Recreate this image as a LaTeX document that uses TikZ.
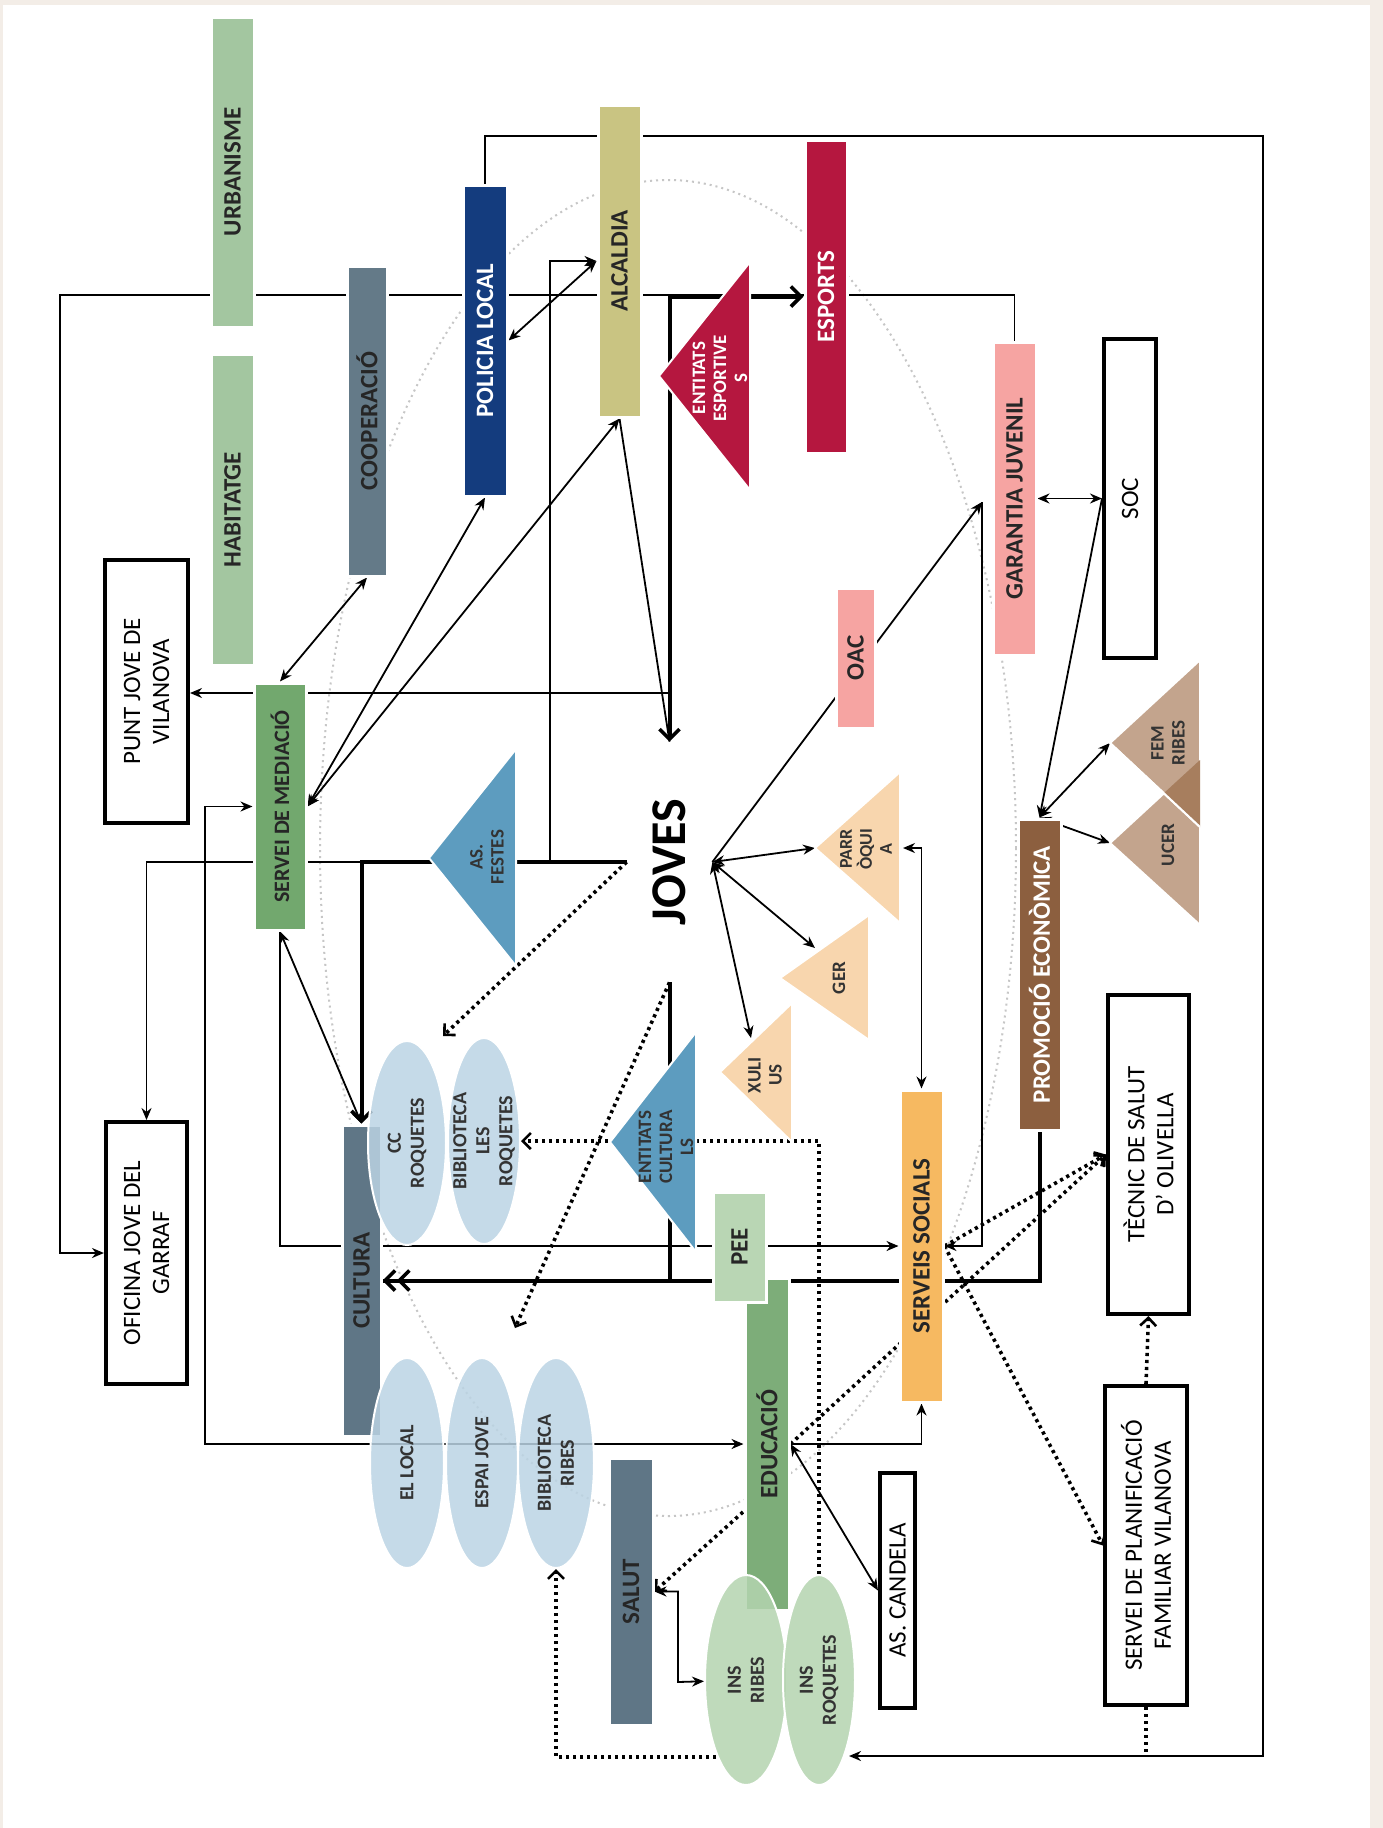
\documentclass[tikz,border=0pt]{standalone}
\usepackage{fontspec}
\setmainfont{Carlito}
\usetikzlibrary{shapes.geometric,arrows.meta}

\definecolor{cUrb}{HTML}{A3C6A0}
\definecolor{cCoop}{HTML}{647A88}
\definecolor{cPol}{HTML}{143C7E}
\definecolor{cAlc}{HTML}{C9C482}
\definecolor{cEsp}{HTML}{B5173F}
\definecolor{cGar}{HTML}{F6A4A2}
\definecolor{cMed}{HTML}{72A86E}
\definecolor{cFes}{HTML}{5D9CBF}
\definecolor{cCul}{HTML}{5F7686}
\definecolor{cOval}{HTML}{BBD4E4}
\definecolor{cPeach}{HTML}{F8D6AE}
\definecolor{cSS}{HTML}{F6B961}
\definecolor{cPee}{HTML}{B9D6B4}
\definecolor{cEdu}{HTML}{7DAD79}
\definecolor{cIns}{HTML}{B4D4B0}
\definecolor{cProm}{HTML}{8C5F3F}
\definecolor{cTan}{HTML}{C3A48D}
\definecolor{cTanD}{HTML}{A77E5E}
\definecolor{cBeige}{HTML}{F3EDE7}

\pgfdeclarelayer{back}
\pgfdeclarelayer{wires}
\pgfsetlayers{back,wires,main}

\tikzset{
  chev/.tip={Straight Barb[length=5pt,width=10pt,line width=1.8pt]},
  chevd/.tip={Straight Barb[length=4pt,width=8pt,line width=1.3pt]},
  bar/.style={rectangle, rotate=90, draw=white, line width=1.5pt, inner sep=0pt,
    text=black!85, font=\bfseries\fontsize{12.5}{13}\selectfont},
  box/.style={rectangle, rotate=90, draw=black, line width=2pt, fill=white, inner sep=0pt,
    align=center, font=\fontsize{12.5}{14.5}\selectfont},
  oval/.style={ellipse, rotate=90, draw=white, line width=1pt, fill opacity=0.85, inner sep=0pt},
  ovaltext/.style={rotate=90, align=center, inner sep=0pt, text=black!80,
    font=\bfseries\fontsize{10}{11.5}\selectfont},
  tritext/.style={rotate=90, align=center, inner sep=0pt, text=black!80,
    font=\bfseries\fontsize{9.5}{10.5}\selectfont},
  wire/.style={line width=0.9pt},
  wirebold/.style={line width=1.4pt},
  wireheavy/.style={line width=2pt},
  dotwire/.style={line width=1.8pt, dash pattern=on 1.6pt off 1.9pt},
  greydots/.style={draw=gray!45, line width=1pt, dash pattern=on 1pt off 2pt}
}

\begin{document}
\begin{tikzpicture}[x=0.5pt, y=-0.5pt, >={Stealth[length=6pt,width=5pt]}]
\useasboundingbox (0,0) rectangle (1383,1828);

% servei bars
\node[bar, fill=cUrb, minimum width=155pt, minimum height=21.5pt] (urb) at (232.5,172) {URBANISME};
\node[bar, fill=cUrb, minimum width=155.5pt, minimum height=21.5pt] (hab) at (232.5,509.5) {HABITATGE};
\node[bar, fill=cCoop, minimum width=155pt, minimum height=20pt] (coop) at (367,421) {COOPERACIÓ};
\node[bar, fill=cPol, text=white, minimum width=155.5pt, minimum height=22pt] (pol) at (485,340.5) {POLICIA LOCAL};
\node[bar, fill=cAlc, minimum width=156pt, minimum height=21.5pt] (alc) at (619.5,261) {ALCALDIA};
\node[bar, fill=cEsp, text=white, minimum width=156.5pt, minimum height=21pt] (esp) at (826,296.5) {ESPORTS};
\node[bar, fill=cGar, minimum width=156.5pt, minimum height=21.5pt] (gar) at (1014.5,498.5) {GARANTIA JUVENIL};
\node[bar, fill=cGar, minimum width=70pt, minimum height=19.5pt] (oac) at (855.5,658) {OAC};
\node[bar, fill=cMed, minimum width=123.5pt, minimum height=26pt, font=\bfseries\fontsize{11}{12}\selectfont] (med) at (280,806.5) {SERVEI DE MEDIACIÓ};
\node[bar, fill=cCul, minimum width=155.5pt, minimum height=19.5pt] (cult) at (361.5,1280.5) {CULTURA};
\node[bar, fill=cSS, minimum width=156pt, minimum height=21.5pt] (ss) at (921.5,1246) {SERVEIS SOCIALS};
\node[bar, fill=cProm, text=white, minimum width=155.5pt, minimum height=21.5pt] (prom) at (1039.5,974.5) {PROMOCIÓ ECONÒMICA};
\node[bar, fill=cEdu, minimum width=166pt, minimum height=22pt] (edu) at (767,1444) {EDUCACIÓ};
\node[bar, fill=cPee, minimum width=55pt, minimum height=26.5pt] (pee) at (739.5,1247) {PEE};
\node[bar, fill=cCul, minimum width=133.5pt, minimum height=22pt] (salut) at (631,1591.5) {SALUT};

% caixes
\node[box, minimum width=131.5pt, minimum height=41.5pt] (punt) at (146.5,691.5) {PUNT JOVE DE\\VILANOVA};
\node[box, minimum width=131pt, minimum height=40.5pt] (ofi) at (146.5,1253) {OFICINA JOVE DEL\\GARRAF};
\node[box, minimum width=159.5pt, minimum height=26pt] (soc) at (1130,498.5) {SOC};
\node[box, minimum width=159.5pt, minimum height=40.5pt] (tec) at (1148.5,1154.5) {TÈCNIC DE SALUT\\D’ OLIVELLA};
\node[box, minimum width=159.5pt, minimum height=41pt] (plan) at (1146,1545.5) {SERVEI DE PLANIFICACIÓ\\FAMILIAR VILANOVA};
\node[box, minimum width=117.5pt, minimum height=17.5pt] (cand) at (897.5,1590.5) {AS. CANDELA};

% triangles (vertex, then the base)
\filldraw[fill=cEsp, draw=white, line width=1pt] (659,376) coordinate (ees-a) -- (750,262) -- (750,490) -- cycle;
\node[tritext, text=white] (ees) at (720,378) {ENTITATS\\ESPORTIVE\\S};
\filldraw[fill=cFes, draw=white, line width=1pt] (429,858) coordinate (fes-a) -- (516,749) -- (516,966) -- cycle;
\node[tritext] (fes) at (487,857) {AS.\\FESTES};
\filldraw[fill=cFes, draw=white, line width=1pt] (610,1142) coordinate (ecu-a) -- (696,1032) -- (696,1252) -- cycle;
\node[tritext] (ecu) at (666,1147) {ENTITATS\\CULTURA\\LS};
\filldraw[fill=cPeach, draw=white, line width=1pt] (720,1072) coordinate (xul-a) -- (792,1003) -- (792,1142) -- cycle;
\node[tritext] (xul) at (765,1075) {XULI\\US};
\filldraw[fill=cPeach, draw=white, line width=1pt] (780,978) coordinate (ger-a) -- (869,915) -- (869,1040) -- cycle;
\node[tritext] (ger) at (839,978) {GER};
\filldraw[fill=cPeach, draw=white, line width=1pt] (815,848) coordinate (par-a) -- (900,772) -- (900,923) -- cycle;
\node[tritext, font=\bfseries\fontsize{9}{10}\selectfont] (par) at (866,849) {PARR\\ÒQUI\\A};
\filldraw[fill=cTan, draw=white, line width=1pt] (1110,843) coordinate (ucer-a) -- (1200,760) -- (1200,925) -- cycle;
\filldraw[fill=cTan, draw=white, line width=1pt] (1110,743) coordinate (fem-a) -- (1200,660) -- (1200,827) -- cycle;
\fill[cTanD] (1164,793) -- (1200,760) -- (1200,827) -- cycle;
\draw[white, line width=1pt] (1110,743) -- (1200,827);
\node[tritext] (fem) at (1168,743) {FEM\\RIBES};
\node[tritext] (ucer) at (1168,845) {UCER};

% equipaments
\node[oval, fill=cOval, minimum width=102pt, minimum height=39pt] (ccr) at (407,1143) {};
\node[ovaltext] (ccr-t) at (ccr) {CC\\ROQUETES};
\node[oval, fill=cOval, minimum width=103pt, minimum height=36pt] (blr) at (484,1141) {};
\node[ovaltext] (blr-t) at (blr) {BIBLIOTECA\\LES\\ROQUETES};
\node[oval, fill=cOval, minimum width=105pt, minimum height=37pt] (loc) at (407,1463) {};
\node[ovaltext] (loc-t) at (loc) {EL LOCAL};
\node[oval, fill=cOval, minimum width=105pt, minimum height=36pt] (ejo) at (482,1463) {};
\node[ovaltext] (ejo-t) at (ejo) {ESPAI JOVE};
\node[oval, fill=cOval, minimum width=105pt, minimum height=38pt] (bri) at (556,1463) {};
\node[ovaltext] (bri-t) at (bri) {BIBLIOTECA\\RIBES};
\node[oval, fill=cIns, minimum width=105pt, minimum height=41pt] (inr) at (746,1680) {};
\node[ovaltext] (inr-t) at (inr) {INS\\RIBES};
\node[oval, fill=cIns, minimum width=105pt, minimum height=36pt] (inq) at (819,1680) {};
\node[ovaltext] (inq-t) at (inq) {INS\\ROQUETES};

\node[rotate=90, inner sep=0pt, minimum width=120pt, minimum height=42.5pt,
  font=\bfseries\fontsize{25}{25}\selectfont] (jov) at (669.5,862) {JOVES};

% punts de pas
\coordinate (alc-j) at (550,862);
\coordinate (cul-j) at (361.5,862);
\coordinate (pj-j) at (669.5,693);
\coordinate (edu-j) at (205,1444);
\coordinate (sal-j) at (678,1682);
\coordinate (gar-l) at (982,502);
\coordinate (ger-e) at (815,948);
\coordinate (xul-e) at (751,1038);
\coordinate (par-b) at (903,848);
\coordinate (inq-in) at (849,1756);
\coordinate (inr-l) at (716,1757);
\coordinate (edu-w) at (743,1512);
\coordinate (ccr-in) at (443,1036);
\coordinate (ejo-in) at (515,1328);

\begin{pgfonlayer}{back}
\fill[cBeige] (0,0) rectangle (1383,1828);
\fill[white] (3,5) rectangle (1370,1828);
\draw[greydots] (668,848) ellipse [x radius=348, y radius=668];
\end{pgfonlayer}

\begin{pgfonlayer}{wires}
% grans voltes
\draw[wire,->] (gar.east) |- (60,295) |- (ofi);
\draw[wire,->] (pol.east) |- (1263,136) |- (inq-in);
\draw[dotwire] (plan.west) -- (plan.west |- inq-in);
% alcaldia i esports
\draw[wire,<->] (pol.south) -- (alc.north);
\draw[wirebold,->] (alc-j) |- (alc);
\draw[wireheavy,chev-chev] (esp) -| (jov.east);
\draw[wire] (alc.west) -- (jov.east);
\draw[wire,->] (pj-j) -- (pj-j -| punt.south);
% servei de mediacio
\draw[wire,<->] (alc.west) -- (med.south);
\draw[wire,<->] (pol.west) -- (med.south);
\draw[wire,<->] (coop.west) -- (med.east);
\draw[wire,<->] (med.north) -| (edu-j) -- (edu);
\draw[wire,->] (med.west) |- (ss);
\draw[wire,<->] (med.west) -- (cult.east);
% fila de les festes
\draw[wireheavy,-chev] (jov.north) -| (cult.east);
\draw[wire,->] (cul-j) -| (ofi.east);
% joves
\draw[wire,<->] (jov.south) -- (par-a);
\draw[wire,<->] (jov.south) -- (ger-e);
\draw[wire,<->] (jov.south) -- (xul-e);
\draw[wire,->] (jov.south) -- (gar-l);
\draw[wire,->] (gar-l) |- (ss);
\draw[wire,<->] (gar) -- (soc);
\draw[wire,->] (soc.north) -- (prom.east);
\draw[wire,<->] (prom.east) -- (fem-a);
\draw[wire,<->] (prom.east) -- (ucer-a);
\draw[wire,<->] (par-b) -| (ss.east);
% cap a cultura
\draw[wireheavy] (jov.west) |- (cult);
\draw[wireheavy,-{Straight Barb[length=5pt,width=10pt,line width=1.8pt] Straight Barb[length=5pt,width=10pt,line width=1.8pt]}] (prom.west) |- (cult);
% educacio
\draw[wire,->] (edu) -| (ss.west);
\draw[wire,<->] (edu.south) -- (cand.north);
\draw[wire,<->] (salut.south) -| (sal-j) -- (inr);
% punts
\draw[dotwire,-chevd] (jov.north) -- (ccr-in);
\draw[dotwire,-chevd] (jov.west) -- (ejo-in);
\draw[dotwire,-chevd] (inq.east) |- (blr);
\draw[dotwire,-chevd] (inr-l) -| (bri.west);
\draw[dotwire,-chevd] (edu-w) -- (salut.south);
\draw[dotwire,-chevd] (edu.south) -- (tec.north);
\draw[dotwire,-chevd] (ss.south) -- (tec.north);
\draw[dotwire,-chevd] (ss.south) -- (plan.north);
\draw[dotwire,-chevd] (plan.east) -- (tec.west);
\end{pgfonlayer}
\end{tikzpicture}
\end{document}
